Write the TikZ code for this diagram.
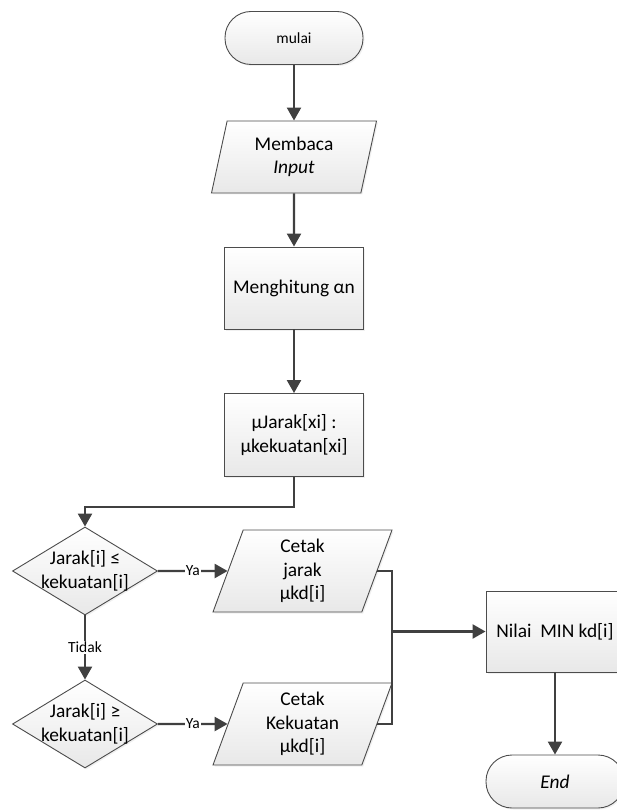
\documentclass[tikz,border=0pt]{standalone}
\usepackage{fontspec}
\setmainfont{Carlito}
\usetikzlibrary{shapes.geometric,arrows.meta,shadows}

\begin{document}
\begin{tikzpicture}[
            x=1pt, y=-1pt,
            node distance=120pt,
            font=\fontsize{19.4}{23.5}\selectfont,
            basefill/.style={
                draw=black!70,
                line width=0.9pt,
                top color=white,
                bottom color=black!9,
                drop shadow={opacity=0.12, shadow xshift=1.5pt, shadow yshift=-1.5pt}
            },
            terminal/.style={
                basefill,
                rectangle,
                rounded corners=26pt,
                minimum width=138pt,
                minimum height=53pt,
                inner sep=0pt
            },
            io/.style={
                basefill,
                trapezium,
                trapezium stretches body,
                trapezium left angle=64.6,
                trapezium right angle=115.4,
                minimum width=179pt,
                minimum height=82pt,
                inner sep=0pt,
                align=center
            },
            process/.style={
                basefill,
                rectangle,
                minimum width=139pt,
                minimum height=82pt,
                align=center
            },
            decision/.style={
                basefill,
                diamond,
                minimum width=145pt,
                minimum height=88pt,
                inner sep=0pt
            },
            smalltext/.style={
                font=\fontsize{15.5}{18}\selectfont
            },
            line/.style={
                draw=black!75,
                line width=2.3pt
            },
            arrow/.style={
                line,
                -{Triangle[width=14pt,length=13pt]}
            }
        ]
            \useasboundingbox (0,0) rectangle (617,810);
            \clip (0,0) rectangle (617,810);

            % Define nodes
            \node[terminal, smalltext] (mulai) at (294,38) {mulai};
            \node[io, below of=mulai, node distance=119pt,
                  trapezium left angle=68.7, trapezium right angle=111.3,
                  minimum width=165pt, minimum height=72pt] (membaca) {Membaca\\\textit{Input}};
            \node[process, below of=membaca, node distance=131pt] (hitung) {Menghitung αn};
            \node[process, below of=hitung, node distance=147pt, minimum height=83pt] (mujarak) {µJarak[xi] :\\µkekuatan[xi]};

            \node[decision] (jarak) at (85,571) {};
            \node[align=center] (jaraktext) at (jarak) {Jarak[i] ≤\\kekuatan[i]};
            \node[io, right of=jarak, node distance=217.5pt] (cetakjarak) {Cetak\\jarak\\µkd[i]};

            \node[decision, below of=jarak, node distance=153pt] (kuat) {};
            \node[align=center] (kuattext) at (kuat) {Jarak[i] ≥\\kekuatan[i]};
            \node[io, right of=kuat, node distance=217.5pt] (cetakkuat) {Cetak\\Kekuatan\\µkd[i]};

            \node[process, minimum width=138pt, minimum height=81pt] (nilai) at (555,631.5) {Nilai\ \ MIN kd[i]};
            \node[terminal, below of=nilai, node distance=150pt] (end) {\textit{End}};
            \coordinate (joint) at (392,631.5);

            % Draw edges
            \draw[arrow] (mulai) -- (membaca);
            \draw[arrow] (membaca) -- (hitung);
            \draw[arrow] (hitung) -- (mujarak);
            \draw[arrow] (mujarak.south) -- ++(0,30) -| (jarak.north);
            \draw[arrow] (jarak.east) -- node[smalltext, fill=white, inner sep=1pt] (ya1) {Ya} (cetakjarak.west);
            \draw[arrow] (jarak.south) -- node[smalltext, fill=white, inner sep=1pt] (tidak) {Tidak} (kuat.north);
            \draw[arrow] (kuat.east) -- node[smalltext, fill=white, inner sep=1pt] (ya2) {Ya} (cetakkuat.west);
            \draw[line] (cetakjarak.east) -| (joint);
            \draw[line] (cetakkuat.east) -| (joint);
            \draw[arrow] (joint) -- (nilai.west);
            \draw[arrow] (nilai) -- (end);
        \end{tikzpicture}
\end{document}
